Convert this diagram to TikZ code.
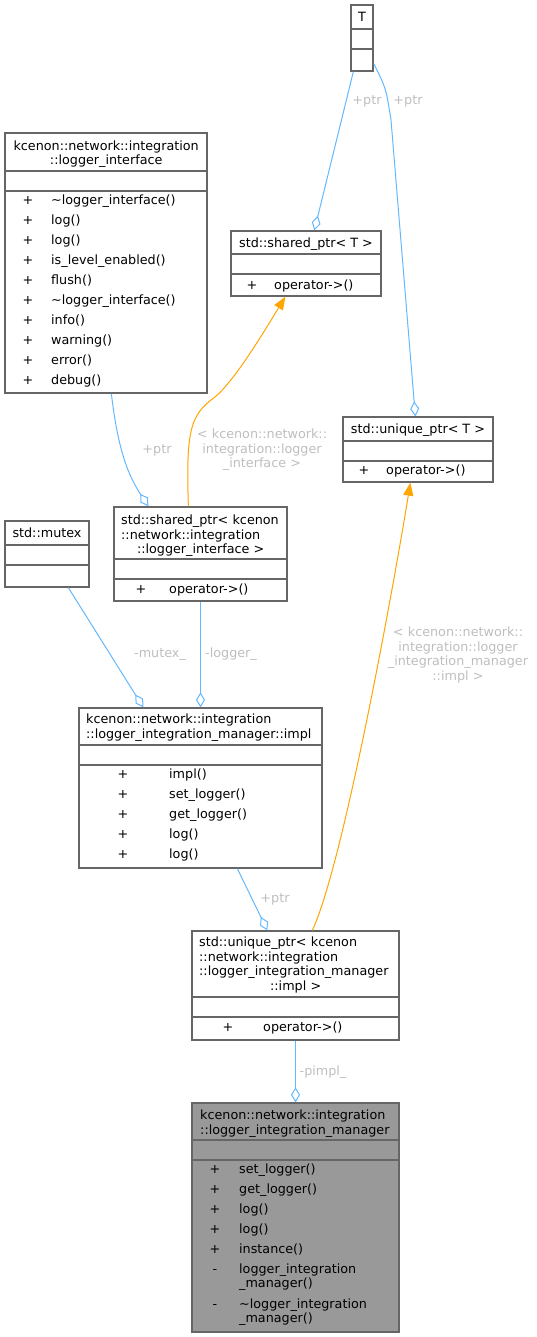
\documentclass[tikz,border=0pt]{standalone}
\usepackage{fontspec}
\setmainfont{DejaVu Sans}
\usetikzlibrary{arrows.meta,fit}

\definecolor{edgeblue}{HTML}{63B8FF}
\definecolor{tmplorange}{HTML}{FFA500}
\definecolor{boxgray}{HTML}{666666}
\definecolor{labelgray}{HTML}{BEBEBE}
\definecolor{curfill}{HTML}{999999}

\tikzset{
  cls/.style={draw=boxgray, line width=1.3pt, inner sep=0pt, fill=white},
  div/.style={draw=boxgray, line width=1.3pt},
  ttl/.style={anchor=base west, inner sep=0pt, yshift=-4.5pt, align=left},
  sgn/.style={anchor=base, inner sep=0pt, yshift=-4.5pt},
  mth/.style={anchor=base west, inner sep=0pt, yshift=-4.5pt},
  usage/.style={color=edgeblue, line width=1pt, -{Diamond[open, length=15pt, width=9pt]}},
  inst/.style={color=tmplorange, line width=1pt, -{Triangle[length=13pt, width=10pt]}},
  elabel/.style={text=labelgray, inner sep=0pt, anchor=base, yshift=-4.5pt, align=center}
}

\begin{document}
\begin{tikzpicture}[x=1pt, y=-1pt, every node/.append style={font=\fontsize{12.75}{14.5}\selectfont}]
    \useasboundingbox (0,0) rectangle (537,1337);

    % class boxes
    \node[cls, fit={(351,5) (373,71)}] (T) {};
    \node[cls, fit={(5,133) (207,393)}] (logint) {};
    \node[cls, fit={(231,231) (381,296)}] (shptrT) {};
    \node[cls, fit={(343,417) (493,482)}] (uniqT) {};
    \node[cls, fit={(5,521) (89,587)}] (mutex) {};
    \node[cls, fit={(114,507) (287,601)}] (shptrLI) {};
    \node[cls, fit={(79,708) (322,868)}] (impl) {};
    \node[cls, fit={(192,931) (399,1040)}] (uniqImpl) {};
    \node[cls, fill=curfill, fit={(192,1103) (399,1332)}] (mgr) {};

    % compartments
    \foreach \n/\a/\b in {T/29/49, logint/171/191, shptrT/254/274, uniqT/441/461,
                          mutex/545/565, shptrLI/559/579, impl/745/765,
                          uniqImpl/997/1017, mgr/1140/1160} {
        \draw[div] (\n.west |- 0,\a) -- (\n.east |- 0,\a);
        \draw[div] (\n.west |- 0,\b) -- (\n.east |- 0,\b);
    }

    % titles
    \node[sgn] at (362,17) {T};
    \node[ttl, text width=188pt, align=center] at (12,146) {kcenon::network::integration\\::logger\_interface};
    \node[sgn] at (306,243) {std::shared\_ptr< T >};
    \node[sgn] at (418,429) {std::unique\_ptr< T >};
    \node[sgn] at (47,533) {std::mutex};
    \node[ttl, text width=159pt] at (121,520) {std::shared\_ptr< kcenon\\::network::integration\\\leavevmode\hfil ::logger\_interface >};
    \node[ttl, text width=229pt] at (86,719) {kcenon::network::integration\\::logger\_integration\_manager::impl};
    \node[ttl, text width=193pt] at (199,942) {std::unique\_ptr< kcenon\\::network::integration\\::logger\_integration\_manager\\\leavevmode\hfil ::impl >};
    \node[ttl, text width=193pt] at (200,1115) {kcenon::network::integration\\::logger\_integration\_manager};

    % members
    \foreach \m [count=\i from 0] in {\textasciitilde logger\_interface(), log(), log(),
            is\_level\_enabled(), flush(), \textasciitilde logger\_interface(),
            info(), warning(), error(), debug()} {
        \node[sgn] at (28,200+20*\i) {+};
        \node[mth] at (51,200+20*\i) {\m};
    }
    \node[sgn] at (252,285) {+};
    \node[mth] at (274,285) {operator->()};
    \node[sgn] at (364,470) {+};
    \node[mth] at (386,470) {operator->()};
    \node[sgn] at (141,589) {+};
    \node[mth] at (169,589) {operator->()};
    \foreach \m [count=\i from 0] in {impl(), set\_logger(), get\_logger(), log(), log()} {
        \node[sgn] at (123,774+20*\i) {+};
        \node[mth] at (169,774+20*\i) {\m};
    }
    \node[sgn] at (228,1027) {+};
    \node[mth] at (263,1027) {operator->()};
    \foreach \y/\s/\m in {1169/+/set\_logger(), 1189/+/get\_logger(), 1209/+/log(),
            1229/+/log(), 1249/+/instance(), 1269/-/logger\_integration,
            1283//\_manager(), 1304/-/\textasciitilde logger\_integration, 1318//\_manager()} {
        \node[sgn] at (215,\y) {\s};
        \node[mth] at (239,\y) {\m};
    }

    % usage relations
    \draw[usage] ([xshift=3pt]T.south west) -- ([xshift=84pt]shptrT.north west);
    \draw[usage] ([yshift=8pt]T.south east) .. controls (386,88) .. (391,120)
        -- ([xshift=73pt]uniqT.north west);
    \draw[usage] ([xshift=107pt]logint.south west) .. controls (118,450) and (128,475)
        .. ([xshift=35pt]shptrLI.north west);
    \draw[usage] ([xshift=64pt]mutex.south west) -- ([xshift=65pt]impl.north west);
    \draw[usage] (shptrLI.south) -- (shptrLI.south |- impl.north);
    \draw[usage] ([xshift=159pt]impl.south west) -- ([xshift=76pt]uniqImpl.north west);
    \draw[usage] (uniqImpl.south) -- (mgr.north);

    % template instances
    \draw[inst] ([xshift=75pt]shptrLI.north west) .. controls (186,430) and (190,415)
        .. (215,397) .. controls (235,380) and (262,335) .. ([xshift=55pt]shptrT.south west);
    \draw[inst] ([xshift=121pt]uniqImpl.north west) .. controls (345,860) and (398,560)
        .. ([xshift=68pt]uniqT.south west);

    % edge labels
    \node[elabel] (ptrShared) at (367,100) {+ptr};
    \node[elabel] (ptrUnique) at (408,100) {+ptr};
    \node[elabel] (ptrLogger) at (157,449) {+ptr};
    \node[elabel, text width=150pt] (argLogger) at (262,434) {< kcenon::network::\\integration::logger\\\_interface >};
    \node[elabel, text width=150pt] (argImpl) at (458,632) {< kcenon::network::\\integration::logger\\\_integration\_manager\\::impl >};
    \node[elabel] (lblMutex) at (160,653) {-mutex\_};
    \node[elabel] (lblLogger) at (231,653) {-logger\_};
    \node[elabel] (ptrImpl) at (275,898) {+ptr};
    \node[elabel] (lblPimpl) at (323,1071) {-pimpl\_};
\end{tikzpicture}
\end{document}
